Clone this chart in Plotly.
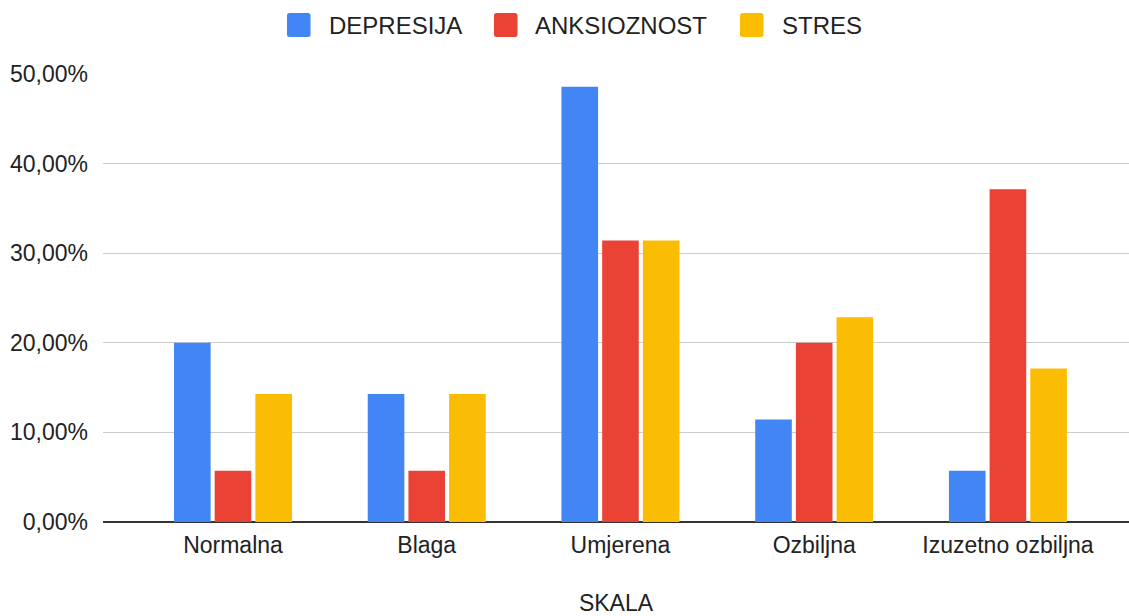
import plotly.graph_objects as go

categories = ["Normalna", "Blaga", "Umjerena", "Ozbiljna", "Izuzetno ozbiljna"]
depresija = [0.2000, 0.1429, 0.4857, 0.1143, 0.0571]
anksioznost = [0.0571, 0.0571, 0.3143, 0.2000, 0.3714]
stres = [0.1429, 0.1429, 0.3143, 0.2286, 0.1714]
series_names = ["DEPRESIJA", "ANKSIOZNOST", "STRES"]
colors = ["#4285F4", "#EA4335", "#FBBC04"]

W, H = 1129, 616
ML, MR, MT, MB = 103, 0, 74, 94
PW, PH = W - ML - MR, H - MT - MB

def px_x(px):
    return (px - ML) / PW

def px_y(py):
    return (H - MB - py) / PH

font_family = "Liberation Sans, Arial, sans-serif"
fig = go.Figure()
for name, vals, col in zip(series_names, [depresija, anksioznost, stres], colors):
    fig.add_trace(go.Bar(x=categories, y=vals, name=name, marker_color=col,
                         marker_line_width=0, showlegend=False))

# custom legend (large rounded squares, like the reference)
legend_marker_left = [287, 494, 740]
legend_text_left = [327, 533, 780]
msize = 23.5
ytop, ybot = 13, 37
r = 2.5
for name, col, mx, tx in zip(series_names, colors, legend_marker_left, legend_text_left):
    x0, x1 = px_x(mx), px_x(mx + msize)
    y0, y1 = px_y(ybot), px_y(ytop)
    rx, ry = r / PW, r / PH
    path = (f"M {x0+rx},{y0} L {x1-rx},{y0} Q {x1},{y0} {x1},{y0+ry} "
            f"L {x1},{y1-ry} Q {x1},{y1} {x1-rx},{y1} L {x0+rx},{y1} "
            f"Q {x0},{y1} {x0},{y1-ry} L {x0},{y0+ry} Q {x0},{y0} {x0+rx},{y0} Z")
    fig.add_shape(type="path", path=path, xref="paper", yref="paper",
                  fillcolor=col, line=dict(width=0))
    fig.add_annotation(x=px_x(tx), y=px_y((ytop + ybot) / 2), xref="paper", yref="paper",
                       text=name, showarrow=False, xanchor="left", yanchor="middle",
                       font=dict(size=24, color="#222222", family=font_family))

fig.update_layout(
    width=W, height=H,
    margin=dict(l=ML, r=MR, t=MT, b=MB, autoexpand=False),
    paper_bgcolor="white", plot_bgcolor="white",
    separators=",.",
    font=dict(family=font_family, size=23, color="#222222"),
    barmode="group", bargap=0.37, bargroupgap=0.1,
    showlegend=False,
    xaxis=dict(range=[-0.671, 4.625], showgrid=False, showline=False, ticks="",
               automargin=False, ticklabelstandoff=7,
               title=dict(text="SKALA", standoff=40, font=dict(size=23)),
               tickfont=dict(size=23)),
    yaxis=dict(range=[0, 0.5], tickformat=".2%", dtick=0.1, showgrid=True,
               automargin=False,
               gridcolor="#cccccc", gridwidth=1, zeroline=True, zerolinecolor="#333333",
               zerolinewidth=2, ticks="", tickfont=dict(size=23), ticklabelstandoff=14),
)
fig.write_html("out.html", config={"displayModeBar": False},
               post_script="document.body.style.margin='0px';document.body.style.overflow='hidden';")
